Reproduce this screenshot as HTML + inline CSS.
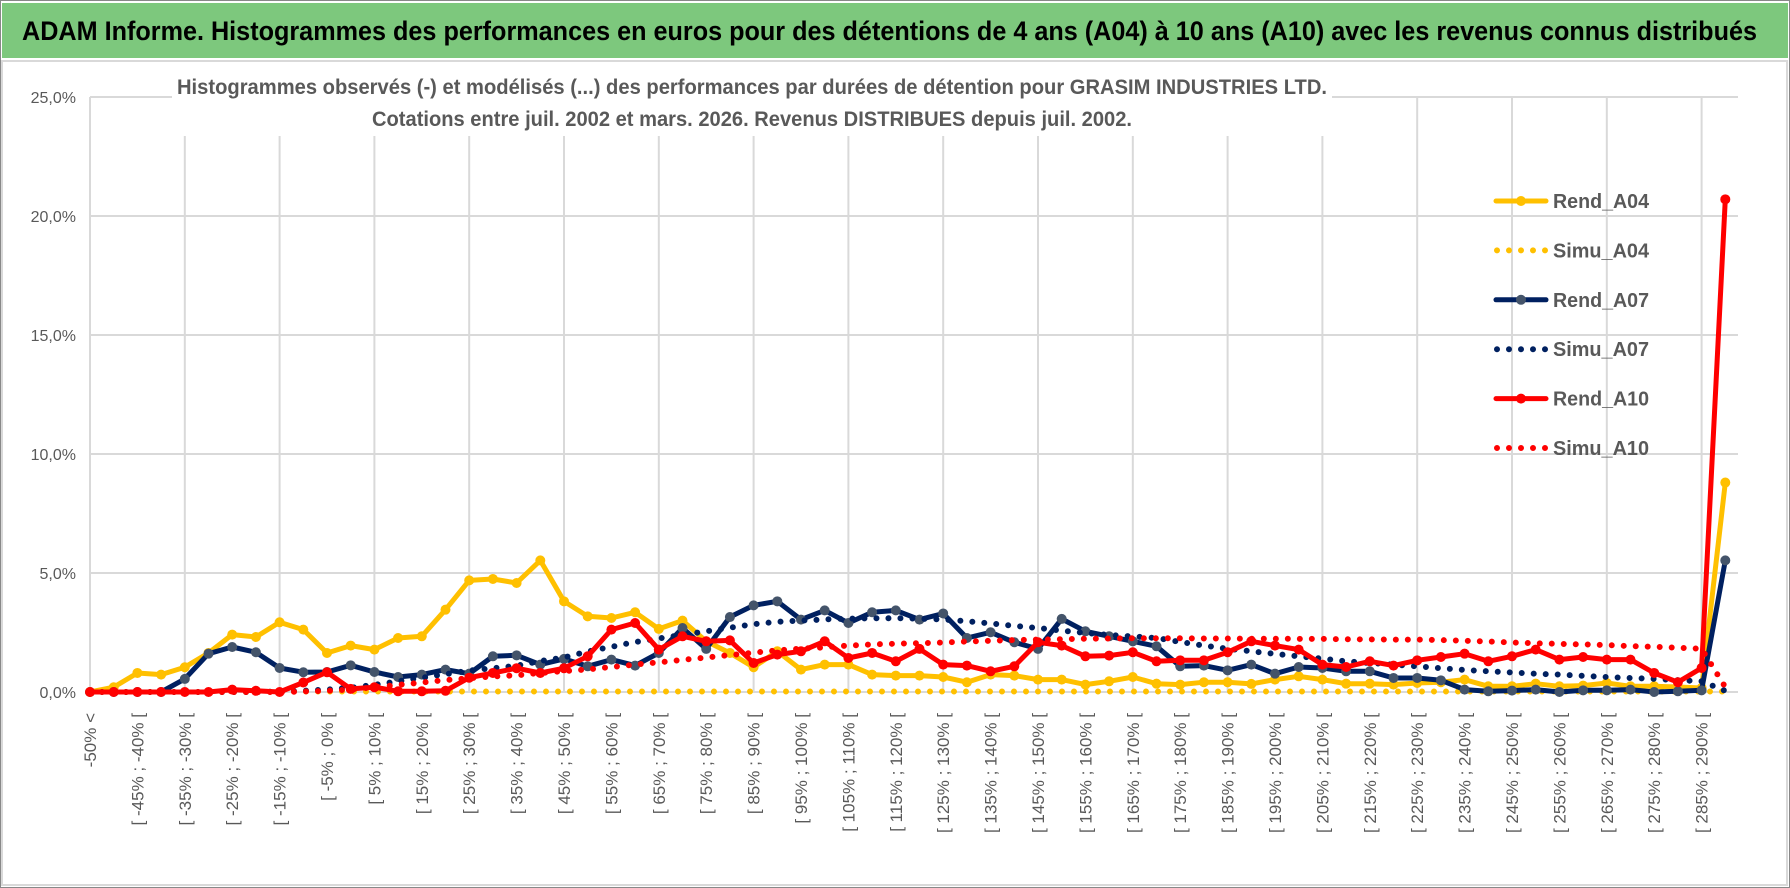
<!DOCTYPE html>
<html><head><meta charset="utf-8">
<style>
html,body{margin:0;padding:0;background:#fff;}
svg{display:block;font-family:"Liberation Sans",sans-serif;}
</style></head>
<body>
<svg id="chart" width="1790" height="888" viewBox="0 0 1790 888" xmlns="http://www.w3.org/2000/svg">
  <rect x="0" y="0" width="1790" height="888" fill="#fff"/>
  <rect x="2" y="3" width="1786" height="55" fill="#7DC87D"/>
  <text x="22" y="40" font-size="27" font-weight="bold" fill="#000" textLength="1735" lengthAdjust="spacingAndGlyphs">ADAM Informe. Histogrammes des performances en euros pour des détentions de 4 ans (A04) à 10 ans (A10) avec les revenus connus distribués</text>
  <rect x="2" y="61" width="1785" height="824" fill="none" stroke="#d9d9d9" stroke-width="2"/>
  <rect x="0.5" y="0.5" width="1789" height="887" fill="none" stroke="#888" stroke-width="1"/>
  <g id="grid"></g>
  <g id="yaxis"></g>
  <g id="xaxis"></g>
  <g id="series"></g>
  <rect x="172" y="64" width="1160" height="72" fill="#fff"/>
  <text x="752" y="94" font-size="21" font-weight="bold" fill="#595959" text-anchor="middle" textLength="1150" lengthAdjust="spacingAndGlyphs">Histogrammes observés (-) et modélisés (...) des performances par durées de détention pour GRASIM INDUSTRIES LTD.</text>
  <text x="752" y="126" font-size="21" font-weight="bold" fill="#595959" text-anchor="middle" textLength="760" lengthAdjust="spacingAndGlyphs">Cotations entre juil. 2002 et mars. 2026. Revenus DISTRIBUES depuis juil. 2002.</text>
  <g id="legend"></g>
</svg>
<script>
const rendA04 = [0,0.2,0.8,0.73,1.04,1.64,2.41,2.31,2.93,2.62,
1.64,1.95,1.78,2.27,2.34,3.46,4.69,4.75,4.58,5.53,
3.81,3.18,3.11,3.35,2.65,3.0,2.13,1.64,1.04,1.71,
0.94,1.15,1.15,0.73,0.69,0.69,0.63,0.41,0.73,0.69,
0.52,0.52,0.31,0.45,0.63,0.35,0.31,0.41,0.41,0.34,
0.52,0.66,0.52,0.35,0.35,0.31,0.38,0.41,0.52,0.24,
0.24,0.35,0.24,0.27,0.38,0.24,0.24,0.21,0.17,8.8];
const simuA04 = [0,0,0,0,0,0,0,0,0.02,0.02,
0.02,0.02,0.02,0.02,0.02,0.02,0.02,0.02,0.02,0.02,
0.02,0.02,0.02,0.02,0.02,0.02,0.02,0.02,0.02,0.02,
0.02,0.02,0.02,0.02,0.02,0.02,0.02,0.02,0.02,0.02,
0.02,0.02,0.02,0.02,0.02,0.02,0.02,0.02,0.02,0.02,
0.02,0.02,0.02,0.02,0.02,0.02,0.02,0.02,0.02,0.02,
0.02,0.02,0.02,0.02,0.02,0.02,0.02,0.02,0.02,0.02];
const rendA07 = [0,0,0,0,0.55,1.61,1.89,1.67,1.01,0.83,
0.84,1.12,0.84,0.63,0.73,0.94,0.77,1.5,1.54,1.15,
1.39,1.08,1.36,1.11,1.64,2.69,1.81,3.15,3.64,3.81,
3.04,3.43,2.9,3.35,3.43,3.04,3.3,2.27,2.51,2.09,
1.81,3.07,2.55,2.34,2.13,1.92,1.08,1.11,0.91,1.15,
0.77,1.05,1.01,0.87,0.87,0.59,0.59,0.49,0.1,0.03,
0.06,0.1,0,0.07,0.07,0.1,0,0.03,0.07,5.53];
const simuA07 = [0,0,0,0,0,0,0,0,0.02,0.05,
0.1,0.18,0.3,0.45,0.6,0.75,0.9,1.0,1.1,1.3,
1.45,1.7,1.9,2.1,2.25,2.4,2.55,2.7,2.85,2.95,
3.0,3.05,3.08,3.1,3.1,3.08,3.05,2.97,2.88,2.78,
2.69,2.58,2.48,2.4,2.33,2.27,2.1,1.95,1.82,1.71,
1.6,1.5,1.4,1.29,1.22,1.15,1.08,1.0,0.93,0.87,
0.82,0.77,0.73,0.68,0.63,0.59,0.55,0.5,0.45,0.05];
const rendA10 = [0,0,0,0,0,0,0.1,0.05,0,0.4,
0.83,0.13,0.2,0.03,0.03,0.05,0.6,0.8,1.0,0.8,
1.0,1.5,2.62,2.9,1.78,2.34,2.13,2.17,1.22,1.57,
1.71,2.13,1.43,1.64,1.29,1.81,1.15,1.11,0.87,1.08,
2.09,1.95,1.5,1.53,1.67,1.29,1.33,1.33,1.67,2.13,
1.95,1.78,1.15,1.05,1.29,1.11,1.33,1.47,1.61,1.29,
1.5,1.78,1.36,1.47,1.36,1.36,0.8,0.41,1.01,20.7];
const simuA10 = [0,0,0,0,0,0,0,0,0,0.02,
0.05,0.1,0.2,0.3,0.4,0.5,0.58,0.65,0.7,0.8,
0.88,0.95,1.05,1.15,1.25,1.35,1.45,1.55,1.65,1.75,
1.82,1.88,1.95,2.0,2.03,2.05,2.08,2.12,2.15,2.18,
2.2,2.22,2.24,2.25,2.26,2.26,2.26,2.25,2.25,2.24,
2.24,2.23,2.23,2.22,2.21,2.2,2.2,2.18,2.15,2.12,
2.08,2.05,2.02,2.0,1.97,1.93,1.9,1.86,1.82,0.2];
const yTicks = [0,5,10,15,20,25];
const yTickLabels = ["0,0%","5,0%","10,0%","15,0%","20,0%","25,0%"];
const categories = ["-50% <"];
for (let k = 1; k <= 68; k++) categories.push("[ " + (-55 + 5*k) + "% ; " + (-50 + 5*k) + "% [");
categories.push("290% <");

const NS = "http://www.w3.org/2000/svg";
const X0 = 90, DX = 23.7, Y0 = 692, PXPCT = 23.8, XR = 1738;
function xs(i){ return X0 + i*DX; }
function ys(v){ return Y0 - v*PXPCT; }
function mk(tag, attrs, parent){
  const e = document.createElementNS(NS, tag);
  for (const k in attrs) e.setAttribute(k, attrs[k]);
  parent.appendChild(e); return e;
}
const grid = document.getElementById('grid');
const yaxis = document.getElementById('yaxis');
const xaxis = document.getElementById('xaxis');
const series = document.getElementById('series');
const legend = document.getElementById('legend');

yTicks.forEach((t, j) => {
  const l = mk('line', {x1:X0, x2:XR, y1:ys(t), y2:ys(t), stroke:'#d9d9d9', 'stroke-width':2}, grid);
  
  
  const tx = mk('text', {x:76, y:ys(t)+6, 'font-size':16, fill:'#595959', 'text-anchor':'end'}, yaxis);
  tx.textContent = yTickLabels[j];
  
  
});
for (let i = 0; i < categories.length; i += 4) {
  const l = mk('line', {x1:xs(i), x2:xs(i), y1:ys(25), y2:Y0, stroke:'#d9d9d9', 'stroke-width':2}, grid);
  
  
}
categories.forEach((c, i) => {
  if (i % 2 !== 0) return;
  const x = xs(i) + 6, y = 713;
  const tx = mk('text', {x:x, y:y, 'font-size':17, fill:'#595959', 'text-anchor':'end', transform:'rotate(-90 '+x+' '+y+')'}, xaxis);
  tx.textContent = c;
  
  
});

function drawSeries(vals, color, dotted, markerColor, name){
  const g = mk('g', {}, series);
  
  
  const pts = vals.map((v, i) => xs(i).toFixed(1) + ',' + ys(v).toFixed(1)).join(' ');
  const attrs = {points:pts, fill:'none', stroke:color, 'stroke-linejoin':'round', 'stroke-linecap':'round'};
  if (dotted) { attrs['stroke-width'] = 6; attrs['stroke-dasharray'] = '0 12'; }
  else { attrs['stroke-width'] = 5; }
  const pl = mk('polyline', attrs, g);
  
  
  if (!dotted) {
    vals.forEach((v, i) => {
      const c = mk('circle', {cx:xs(i), cy:ys(v), r:5, fill:markerColor}, g);
      
      
    });
  }
}
drawSeries(rendA04, '#FFC000', false, '#FFC000', 'rend-a04');
drawSeries(simuA04, '#FFC000', true, null, 'simu-a04');
drawSeries(rendA07, '#002060', false, '#44546A', 'rend-a07');
drawSeries(simuA07, '#002060', true, null, 'simu-a07');
drawSeries(rendA10, '#FF0000', false, '#FF0000', 'rend-a10');
drawSeries(simuA10, '#FF0000', true, null, 'simu-a10');

const legendItems = [
  ['Rend_A04','#FFC000',false,'#FFC000'],
  ['Simu_A04','#FFC000',true,null],
  ['Rend_A07','#002060',false,'#44546A'],
  ['Simu_A07','#002060',true,null],
  ['Rend_A10','#FF0000',false,'#FF0000'],
  ['Simu_A10','#FF0000',true,null]
];
legendItems.forEach((it, j) => {
  const y = 201 + j*49.4;
  const g = mk('g', {}, legend);
  
  
  if (it[2]) {
    mk('line', {x1:1497, x2:1546, y1:y, y2:y, stroke:it[1], 'stroke-width':6, 'stroke-dasharray':'0 12', 'stroke-linecap':'round'}, g);
  } else {
    mk('line', {x1:1496, x2:1546, y1:y, y2:y, stroke:it[1], 'stroke-width':5, 'stroke-linecap':'round'}, g);
    mk('circle', {cx:1521, cy:y, r:5, fill:it[3]}, g);
  }
  const tx = mk('text', {x:1553, y:y+7, 'font-size':20, 'font-weight':'bold', fill:'#595959', textLength:96, lengthAdjust:'spacingAndGlyphs'}, g);
  tx.textContent = it[0];
});
</script>
</body></html>
